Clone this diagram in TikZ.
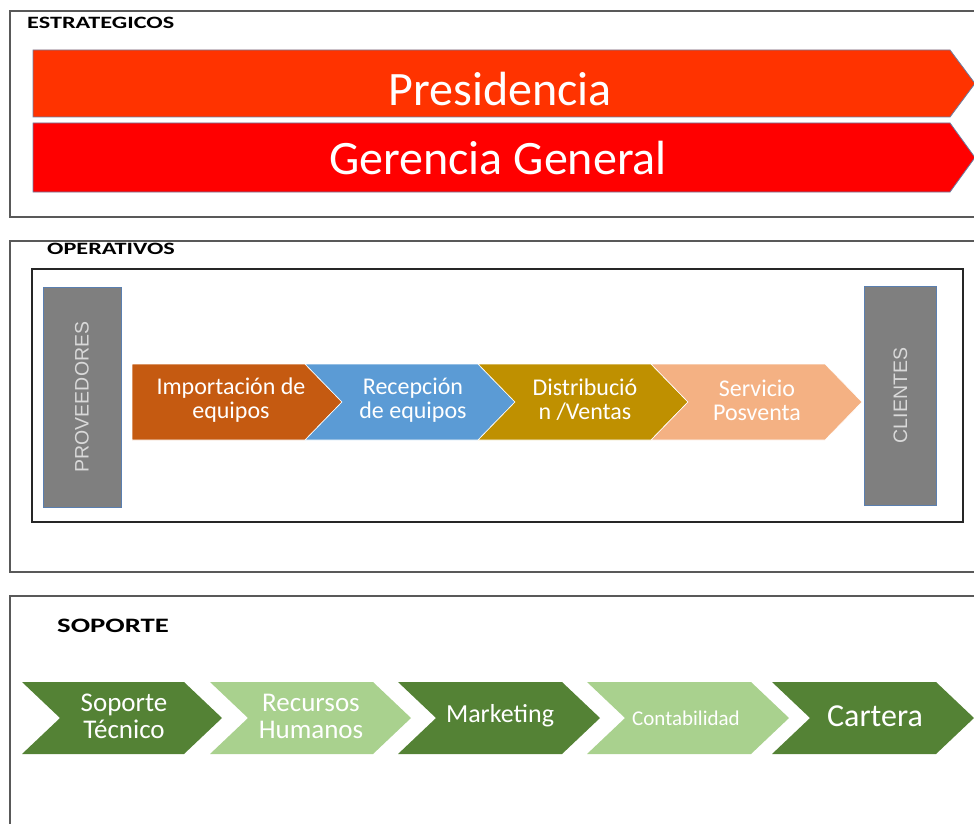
\documentclass[tikz,border=0pt]{standalone}
\usepackage{fontspec}
\setmainfont{Carlito}
\newfontfamily\headfont[FakeStretch=1.4]{Carlito}
\newfontfamily\sidefont{Liberation Sans}
\usetikzlibrary{positioning}

\definecolor{prescol}{HTML}{FF3300}
\definecolor{gercol}{HTML}{FF0000}
\definecolor{arrline}{HTML}{6B7FA3}
\definecolor{impcol}{HTML}{C55A11}
\definecolor{reccol}{HTML}{5B9BD5}
\definecolor{discol}{HTML}{BF9000}
\definecolor{sercol}{HTML}{F4B183}
\definecolor{dkgreen}{HTML}{548235}
\definecolor{ltgreen}{HTML}{A9D18E}
\definecolor{boxgray}{HTML}{7F7F7F}
\definecolor{sideline}{HTML}{5A7FB0}
\definecolor{sidetext}{HTML}{D9D9D9}

\tikzset{
  frame/.style={draw=black!65, line width=1.2pt},
  head/.style={anchor=west, inner sep=0pt, font=\headfont\bfseries\fontsize{17.3}{19}\selectfont},
  lbl/.style={text=white, align=center, inner sep=0pt},
  bigtxt/.style={lbl, font=\fontsize{48}{48}\selectfont},
  proctxt/.style={lbl, font=\fontsize{24}{24}\selectfont},
  suptxt/.style={lbl, font=\fontsize{27}{27}\selectfont},
  sidebox/.style={fill=boxgray, draw=sideline, line width=0.8pt, rotate=90, inner sep=0pt,
    text=sidetext, font=\sidefont\fontsize{19.5}{20}\selectfont},
  chev/.style={draw=white, line width=0.6pt},
}

\begin{document}
\begin{tikzpicture}[x=1pt, y=-1pt]
\useasboundingbox (0,0) rectangle (974,824);

% estrategicos
\draw[frame] (980,11) -| (10,217) -- (980,217);
\node[head] (est) at (27,23) {ESTRATEGICOS};
\filldraw[fill=prescol, draw=arrline, line width=0.8pt] (33,50) -- (950,50) -- (975,83.5) -- (950,117) -- (33,117) -- cycle;
\filldraw[fill=gercol, draw=arrline, line width=0.8pt] (33,123) -- (950,123) -- (975,157.5) -- (950,192) -- (33,192) -- cycle;
\node[bigtxt] (pres) at (500,89) {Presidencia};
\node[bigtxt] (ger) at (498,158) {Gerencia General};

% operativos
\draw[frame] (980,241) -| (10,572) -- (980,572);
\node[head] (ope) at (47,249) {OPERATIVOS};
\draw[black!85, line width=1.2pt] (32,269) rectangle (963,522);
\node[sidebox, minimum width=220pt, minimum height=78pt] (prov) at (82,397) {PROVEEDORES};
\node[sidebox, minimum width=219pt, minimum height=72pt] (cli) at (900.5,395.5) {CLIENTES};

\filldraw[chev, fill=impcol] (132,364) -- (305,364) -- (342,402) -- (305,440) -- (132,440) -- cycle;
\filldraw[chev, fill=reccol] (305,364) -- (478,364) -- (515,402) -- (478,440) -- (305,440) -- (342,402) -- cycle;
\filldraw[chev, fill=discol] (478,364) -- (651,364) -- (688,402) -- (651,440) -- (478,440) -- (515,402) -- cycle;
\filldraw[chev, fill=sercol] (651,364) -- (825,364) -- (862,402) -- (825,440) -- (651,440) -- (688,402) -- cycle;
\node[proctxt] (imp) at (231,400) {Importación de\\equipos};
\node[proctxt] (rec) at (413,400) {Recepción\\de equipos};
\node[proctxt] (dis) at (585,400) {Distribució\\n /Ventas};
\node[proctxt] (ser) at (757,400) {Servicio\\Posventa};

% soporte
\draw[frame] (980,596) -| (10,830);
\node[head, font=\headfont\bfseries\fontsize{20.5}{22}\selectfont] (spt) at (57,626) {SOPORTE};
\fill[dkgreen] (22,682) -- (184,682) -- (222,718) -- (184,754) -- (22,754) -- (60,718) -- cycle;
\fill[ltgreen] (210,682) -- (373,682) -- (411,718) -- (373,754) -- (210,754) -- (248,718) -- cycle;
\fill[dkgreen] (398,682) -- (562,682) -- (600,718) -- (562,754) -- (398,754) -- (436,718) -- cycle;
\fill[ltgreen] (587,682) -- (751,682) -- (789,718) -- (751,754) -- (587,754) -- (625,718) -- cycle;
\fill[dkgreen] (772,682) -- (936,682) -- (974,718) -- (936,754) -- (772,754) -- (810,718) -- cycle;
\node[suptxt] (sop) at (124,716) {Soporte\\Técnico};
\node[suptxt] (rrhh) at (311,716) {Recursos\\Humanos};
\node[suptxt, font=\fontsize{26}{26}\selectfont] (mkt) at (500,716) {Marketing};
\node[suptxt, font=\fontsize{21}{21}\selectfont] (cont) at (686,718) {Contabilidad};
\node[suptxt, font=\fontsize{32}{32}\selectfont] (cart) at (875,716) {Cartera};
\end{tikzpicture}
\end{document}
